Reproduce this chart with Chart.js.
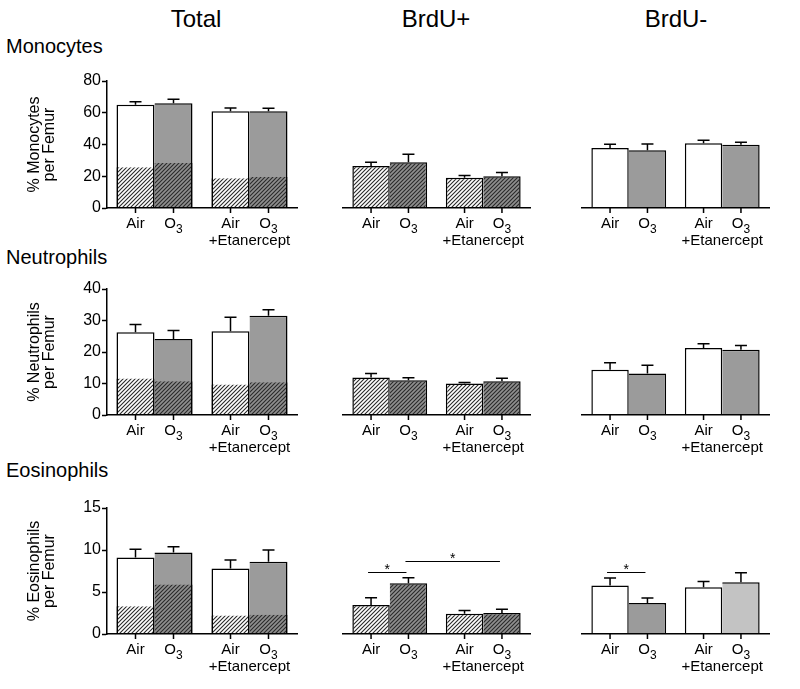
<!DOCTYPE html>
<html><head><meta charset="utf-8">
<script src="https://cdn.jsdelivr.net/npm/chart.js@4.4.1/dist/chart.umd.min.js"></script>
<style>
html,body{margin:0;padding:0;background:#fff;}
#wrap{position:relative;width:800px;height:689px;overflow:hidden;font-family:"Liberation Sans",Arial,Helvetica,sans-serif;color:#000;}
.t{position:absolute;white-space:nowrap;}
.col{font-size:24px;line-height:24px;width:200px;text-align:center;}
.row{font-size:20px;line-height:20px;left:6px;}
.p{position:absolute;}
</style></head><body>
<div id="wrap">
<div class="t col" style="left:96px;top:7px">Total</div>
<div class="t col" style="left:336px;top:7px">BrdU+</div>
<div class="t col" style="left:576px;top:7px">BrdU-</div>
<div class="t row" style="top:36px">Monocytes</div>
<div class="t row" style="top:247px">Neutrophils</div>
<div class="t row" style="top:460px">Eosinophils</div>
</div>
<script>
// ---- data (order in each 4-value array: Air, O3, Air+Etanercept, O3+Etanercept) ----
const groups = ['', '+Etanercept'];
const exposures = ['Air', 'O₃'];

const monoTicks = [0, 20, 40, 60, 80];
const monoTotal = [65, 66, 61, 61];
const monoTotalSem = [2.0, 2.5, 2.0, 1.8];
const monoTotalBrdUPos = [25.6, 28.3, 18.7, 19.5];
const monoBrdUPos = [26.5, 28.8, 19.1, 20.0];
const monoBrdUPosSem = [2.3, 5.0, 1.3, 2.3];
const monoBrdUNeg = [37.8, 36.3, 40.8, 39.9];
const monoBrdUNegSem = [2.3, 4.0, 1.8, 1.5];

const neutTicks = [0, 10, 20, 30, 40];
const neutTotal = [26.3, 24.1, 26.6, 31.5];
const neutTotalSem = [2.4, 2.7, 4.4, 1.9];
const neutTotalBrdUPos = [11.6, 10.7, 9.7, 10.4];
const neutBrdUPos = [11.9, 11.0, 10.0, 10.7];
const neutBrdUPosSem = [1.3, 0.8, 0.3, 1.0];
const neutBrdUNeg = [14.4, 13.2, 21.3, 20.7];
const neutBrdUNegSem = [2.2, 2.6, 1.3, 1.4];

const eosTicks = [0, 5, 10, 15];
const eosTotal = [9.1, 9.7, 7.8, 8.6];
const eosTotalSem = [1.0, 0.7, 1.0, 1.4];
const eosTotalBrdUPos = [3.3, 5.9, 2.2, 2.3];
const eosBrdUPos = [3.46, 6.05, 2.4, 2.5];
const eosBrdUPosSem = [0.85, 0.65, 0.4, 0.45];
const eosBrdUNeg = [5.76, 3.7, 5.57, 6.17];
const eosBrdUNegSem = [0.9, 0.6, 0.67, 1.13];

// significance brackets: [bar index from, bar index to, height in data units]
const eosBrdUPosSig = [[0, 1, 7.4], [1, 3, 8.7]];
const eosBrdUNegSig = [[0, 1, 7.4]];

// ---- styling ----
const FONT = "'Liberation Sans', Arial, Helvetica, sans-serif";
Chart.defaults.font.family = FONT;
Chart.defaults.color = '#000';
const WHITE = '#ffffff', GRAY = '#9b9b9b', LIGHT = '#c3c3c3';
const BW = 1.5;

function hatch(bg, fg) {
  const c = document.createElement('canvas'); c.width = c.height = 4;
  const g = c.getContext('2d');
  g.fillStyle = bg; g.fillRect(0, 0, 4, 4);
  g.strokeStyle = fg; g.lineWidth = 1.1;
  g.beginPath();
  g.moveTo(-1, 5); g.lineTo(5, -1);
  g.moveTo(-1, 1); g.lineTo(1, -1);
  g.moveTo(3, 5); g.lineTo(5, 3);
  g.stroke();
  return g.createPattern(c, 'repeat');
}
const HATCH_W = hatch('#ffffff', '#2a2a2a');
const HATCH_G = hatch('#8f8f8f', '#2a2a2a');

function pick(arr, s) { return [arr[s], arr[s + 2]]; }
function borders(s, top) { return {top: top ? BW : 0, bottom: 0, left: s === 0 ? BW : 0, right: BW}; }

function mainSets(values, sem, fills) {
  return exposures.map((name, s) => ({
    label: name, stack: name, data: pick(values, s), sem: pick(sem, s), main: true,
    backgroundColor: fills[s], borderColor: '#000', borderWidth: borders(s, true), borderSkipped: false
  }));
}
function hatchSets(values) {
  return exposures.map((name, s) => ({
    label: name + ' BrdU+', stack: name, data: pick(values, s),
    backgroundColor: s ? HATCH_G : HATCH_W, borderColor: '#000', borderWidth: borders(s, false), borderSkipped: false
  }));
}

function drawLabel(ctx, text, x, y) {
  const m = text.match(/^(.*?)([₀-₉]+)$/);
  ctx.textBaseline = 'alphabetic';
  if (!m) {
    ctx.font = '15px ' + FONT; ctx.textAlign = 'center'; ctx.fillText(text, x, y); return;
  }
  const sub = m[2].replace(/[₀-₉]/g, ch => String(ch.charCodeAt(0) - 0x2080));
  ctx.font = '15px ' + FONT; const w1 = ctx.measureText(m[1]).width;
  ctx.font = '12px ' + FONT; const w2 = ctx.measureText(sub).width;
  const x0 = x - (w1 + w2) / 2;
  ctx.textAlign = 'left';
  ctx.font = '15px ' + FONT; ctx.fillText(m[1], x0, y);
  ctx.font = '12px ' + FONT; ctx.fillText(sub, x0 + w1, y + 5);
}

const extras = {
  id: 'extras',
  afterDatasetsDraw(chart) {
    const ctx = chart.ctx, ys = chart.scales.y, area = chart.chartArea;
    ctx.save();
    ctx.strokeStyle = '#000'; ctx.fillStyle = '#000'; ctx.lineWidth = BW;
    const mainMeta = {};
    chart.data.datasets.forEach((ds, di) => {
      if (!ds.main) return;
      const meta = chart.getDatasetMeta(di);
      mainMeta[ds.stack] = meta;
      meta.data.forEach((bar, i) => {
        const v = ds.data[i], e = ds.sem[i];
        const y0 = ys.getPixelForValue(v), y1 = ys.getPixelForValue(v + e);
        ctx.beginPath();
        ctx.moveTo(bar.x, y0); ctx.lineTo(bar.x, y1);
        ctx.moveTo(bar.x - 6, y1); ctx.lineTo(bar.x + 6, y1);
        ctx.moveTo(bar.x, area.bottom); ctx.lineTo(bar.x, area.bottom + 5);
        ctx.stroke();
        drawLabel(ctx, ds.label, bar.x, area.bottom + 20);
      });
    });
    const sig = chart.options.plugins.extras && chart.options.plugins.extras.sig;
    if (sig) {
      const xOf = k => mainMeta[exposures[k % 2]].data[Math.floor(k / 2)].x;
      sig.forEach(([a, b, h]) => {
        const y = Math.round(ys.getPixelForValue(h)) + 0.5;
        const xa = xOf(a) - 3, xb = xOf(b) - 2;
        ctx.lineWidth = 1.2;
        ctx.beginPath(); ctx.moveTo(xa, y); ctx.lineTo(xb, y); ctx.stroke();
        ctx.font = '14px ' + FONT; ctx.textAlign = 'center'; ctx.textBaseline = 'alphabetic';
        ctx.fillText('*', (xa + xb) / 2, y + 1);
      });
    }
    ctx.restore();
  }
};

const cols = [
  {left: 0, w: 300, pad: {left: 0, right: 3}, axis: true},
  {left: 333, w: 207, pad: {left: 10, right: 10}, axis: false},
  {left: 572, w: 207, pad: {left: 10, right: 10}, axis: false}
];
const rows = [
  {top: 70, h: 188, ticks: monoTicks, title: ['% Monocytes', 'per Femur'],
   sets: [
     hatchSets(monoTotalBrdUPos).concat(mainSets(monoTotal, monoTotalSem, [WHITE, GRAY])),
     mainSets(monoBrdUPos, monoBrdUPosSem, [HATCH_W, HATCH_G]),
     mainSets(monoBrdUNeg, monoBrdUNegSem, [WHITE, GRAY])],
   sig: [null, null, null]},
  {top: 278, h: 187, ticks: neutTicks, title: ['% Neutrophils', 'per Femur'],
   sets: [
     hatchSets(neutTotalBrdUPos).concat(mainSets(neutTotal, neutTotalSem, [WHITE, GRAY])),
     mainSets(neutBrdUPos, neutBrdUPosSem, [HATCH_W, HATCH_G]),
     mainSets(neutBrdUNeg, neutBrdUNegSem, [WHITE, GRAY])],
   sig: [null, null, null]},
  {top: 497, h: 187, ticks: eosTicks, title: ['% Eosinophils', 'per Femur'],
   sets: [
     hatchSets(eosTotalBrdUPos).concat(mainSets(eosTotal, eosTotalSem, [WHITE, GRAY])),
     mainSets(eosBrdUPos, eosBrdUPosSem, [HATCH_W, HATCH_G]),
     mainSets(eosBrdUNeg, eosBrdUNegSem, [WHITE, [GRAY, LIGHT]])],
   sig: [null, eosBrdUPosSig, eosBrdUNegSig]}
];

const wrap = document.getElementById('wrap');
rows.forEach(row => {
  cols.forEach((col, ci) => {
    const div = document.createElement('div');
    div.className = 'p';
    div.style.left = col.left + 'px'; div.style.top = row.top + 'px';
    div.style.width = col.w + 'px'; div.style.height = row.h + 'px';
    const cv = document.createElement('canvas');
    div.appendChild(cv); wrap.appendChild(div);
    const yScale = {
      display: col.axis, stacked: false, min: 0, max: row.ticks[row.ticks.length - 1],
      afterBuildTicks: s => { s.ticks = row.ticks.map(v => ({value: v})); },
      ticks: {font: {size: 16}, color: '#000', padding: 1},
      grid: {drawOnChartArea: false, drawTicks: true, tickLength: 5, tickColor: '#000', tickWidth: BW},
      border: {display: true, color: '#000', width: BW},
      title: {display: true, text: row.title, color: '#000',
              font: {size: 16, lineHeight: '15px'}, padding: {top: 27, bottom: 0}}
    };
    if (col.axis) yScale.afterFit = s => { s.width = 107; };
    new Chart(cv, {
      type: 'bar',
      data: {labels: groups, datasets: row.sets[ci]},
      options: {
        responsive: true, maintainAspectRatio: false, animation: false, events: [],
        layout: {padding: {top: 11, bottom: 0, left: col.pad.left, right: col.pad.right}},
        datasets: {bar: {categoryPercentage: 0.8, barPercentage: 1}},
        plugins: {legend: {display: false}, tooltip: {enabled: false}, extras: {sig: row.sig[ci]}},
        scales: {
          x: {
            grid: {display: false, drawTicks: false},
            border: {display: true, color: '#000', width: BW, z: 1},
            ticks: {
              font: {size: 15, lineHeight: 1.25}, color: '#000', padding: 5, autoSkip: false, maxRotation: 0,
              callback: function (v) { return ['', this.getLabelForValue(v)]; }
            },
            afterFit: s => { s.height = 50; }
          },
          y: yScale
        }
      },
      plugins: [extras]
    });
  });
});
</script>
</body></html>
